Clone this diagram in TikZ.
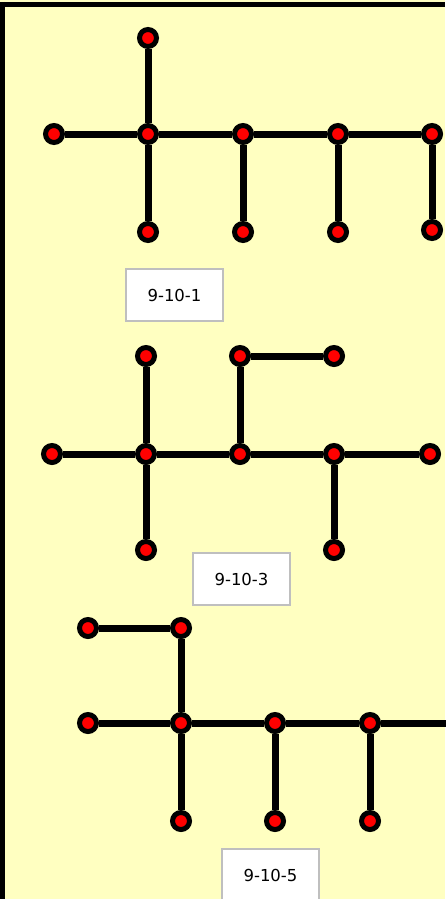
\documentclass[tikz,border=0pt]{standalone}
\usepackage{fontspec}
\setmainfont{DejaVu Sans}
\usepackage{xcolor}
\usetikzlibrary{positioning}
\definecolor{paleyellow}{RGB}{255,255,193}

\begin{document}
\begin{tikzpicture}[x=1pt, y=-1pt,
  dot/.style={circle, draw=black, fill=red, line width=5pt, minimum size=17pt, inner sep=0pt},
  edge/.style={line width=7pt},
  tag/.style={draw=black!25, fill=white, line width=1.2pt, minimum width=97pt, minimum height=52pt, font=\fontsize{16.5}{20}\selectfont}]
  % Background and frame
  \fill[paleyellow] (0,0) rectangle (445,899);
  \useasboundingbox (0,0) rectangle (445,899);
  \draw[line width=5pt] (0,4.5) -- (445,4.5);
  \draw[line width=5pt] (2.5,2) -- (2.5,899);

  % Tree 9-10-1
  \node[dot] (t1) at (148,38) {};
  \node[dot] (a1) at (54,134) {};
  \node[dot] (a2) at (148,134) {};
  \node[dot] (a3) at (243,134) {};
  \node[dot] (a4) at (338,134) {};
  \node[dot] (a5) at (432,134) {};
  \node[dot] (b2) at (148,232) {};
  \node[dot] (b3) at (243,232) {};
  \node[dot] (b4) at (338,232) {};
  \node[dot] (b5) at (432,230) {};
  \draw[edge] (a1) -- (a2) -- (a3) -- (a4) -- (a5);
  \draw[edge] (t1) -- (a2) -- (b2);
  \draw[edge] (a3) -- (b3);
  \draw[edge] (a4) -- (b4);
  \draw[edge] (a5) -- (b5);
  \node[tag] (lab1) at (174.5,295) {9-10-1};

  % Tree 9-10-3
  \node[dot] (u2) at (146,356) {};
  \node[dot] (u3) at (240,356) {};
  \node[dot] (u4) at (334,356) {};
  \node[dot] (c1) at (52,454) {};
  \node[dot] (c2) at (146,454) {};
  \node[dot] (c3) at (240,454) {};
  \node[dot] (c4) at (334,454) {};
  \node[dot] (c5) at (430,454) {};
  \node[dot] (d2) at (146,550) {};
  \node[dot] (d4) at (334,550) {};
  \draw[edge] (c1) -- (c2) -- (c3) -- (c4) -- (c5);
  \draw[edge] (u2) -- (c2) -- (d2);
  \draw[edge] (u4) -- (u3) -- (c3);
  \draw[edge] (c4) -- (d4);
  \node[tag] (lab3) at (241.5,579) {9-10-3};

  % Tree 9-10-5
  \node[dot] (v1) at (88,628) {};
  \node[dot] (v2) at (181,628) {};
  \node[dot] (e1) at (88,723) {};
  \node[dot] (e2) at (181,723) {};
  \node[dot] (e3) at (275,723) {};
  \node[dot] (e4) at (370,723) {};
  \coordinate (e5) at (446,723);
  \node[dot] (f2) at (181,821) {};
  \node[dot] (f3) at (275,821) {};
  \node[dot] (f4) at (370,821) {};
  \draw[edge] (e1) -- (e2) -- (e3) -- (e4) -- (e5);
  \draw[edge] (v1) -- (v2) -- (e2) -- (f2);
  \draw[edge] (e3) -- (f3);
  \draw[edge] (e4) -- (f4);
  \node[tag] (lab5) at (270.5,875) {9-10-5};
\end{tikzpicture}
\end{document}
